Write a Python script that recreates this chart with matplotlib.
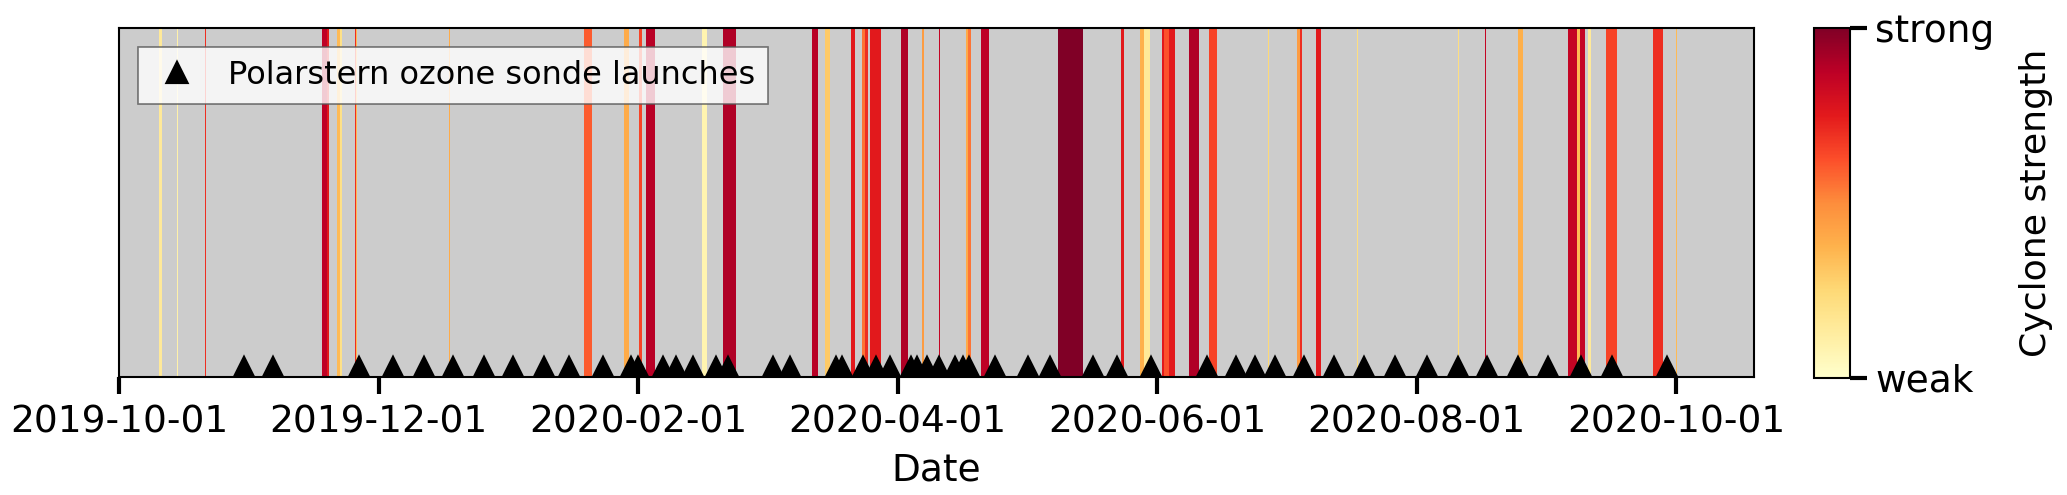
import numpy as np
import matplotlib
matplotlib.use('Agg')
import matplotlib.pyplot as plt
from matplotlib.cm import ScalarMappable
from matplotlib.colors import Normalize

# days since 2019-10-01 (axis is evenly spaced, one tick every 61 days)
tick_days = [0, 61, 122, 183, 244, 305, 366]
tick_labels = ['2019-10-01', '2019-12-01', '2020-02-01', '2020-04-01',
               '2020-06-01', '2020-08-01', '2020-10-01']

# cyclone periods: start day, end day, normalised strength (0 weak .. 1 strong)
band_start = [9.4, 13.7, 20.1, 47.6, 48.8, 51.3, 52.0, 55.5, 55.8, 77.5,
              109.4, 118.8, 122.3, 123.9, 137.0, 142.0, 162.8, 166.0, 172.0, 174.6,
              175.3, 176.5, 183.8, 188.7, 192.7, 199.0, 199.6, 202.6, 220.7, 235.6,
              239.9, 241.0, 245.1, 245.7, 246.9, 251.6, 256.3, 270.0, 276.9, 277.6,
              281.4, 291.0, 314.6, 321.1, 328.9, 340.6, 342.6, 343.3, 345.3, 349.4,
              360.6, 366.0]
band_end = [10.1, 13.9, 20.4, 48.8, 49.4, 52.0, 52.5, 55.8, 56.0, 77.8,
            111.1, 119.8, 123.0, 125.9, 138.1, 145.0, 164.4, 167.1, 173.0, 175.3,
            176.0, 179.1, 185.4, 189.1, 193.0, 199.6, 200.3, 204.4, 226.5, 236.3,
            241.0, 242.4, 245.7, 246.9, 248.3, 253.8, 258.1, 270.3, 277.6, 278.1,
            282.4, 291.3, 314.9, 321.4, 329.9, 342.6, 343.3, 344.5, 345.9, 352.0,
            363.0, 366.3]
band_strength = [0.15, 0.1, 0.7, 0.87, 0.75, 0.35, 0.2, 0.7, 0.35, 0.4,
                 0.6, 0.4, 0.65, 0.88, 0.08, 0.9, 0.88, 0.3, 0.75, 0.55,
                 0.7, 0.75, 0.9, 0.45, 0.85, 0.4, 0.55, 0.87, 1.0, 0.75,
                 0.38, 0.15, 0.75, 0.62, 0.75, 0.9, 0.65, 0.25, 0.45, 0.7,
                 0.75, 0.22, 0.22, 0.85, 0.38, 0.85, 0.35, 0.85, 0.15, 0.65,
                 0.7, 0.35]

# ozone sonde launches (days since 2019-10-01)
launch_days = [29.4, 36.3, 56.4, 64.4, 71.7, 78.6, 85.7, 92.7, 99.8, 105.8,
               113.8, 120.3, 121.9, 127.8, 130.8, 134.8, 140.3, 143.1, 153.6, 157.7,
               168.5, 170.0, 174.8, 177.8, 181.3, 186.2, 187.5, 189.9, 192.8, 196.4,
               198.3, 199.7, 205.8, 213.6, 218.7, 228.9, 234.5, 242.5, 255.7, 262.5,
               266.9, 271.6, 278.6, 285.5, 292.6, 299.9, 307.5, 314.7, 321.5, 328.9,
               335.9, 343.7, 350.8, 363.9]

plt.rcParams['font.family'] = 'DejaVu Sans'
plt.rcParams['font.size'] = 9

cmap = plt.get_cmap('YlOrRd')
norm = Normalize(0, 1)

fig = plt.figure(figsize=(2067 / 300, 495 / 300), dpi=300)
ax = fig.add_axes([0.0576, 0.2384, 0.7910, 0.7050])
ax.set_facecolor('#cccccc')

for s, e, v in zip(band_start, band_end, band_strength):
    ax.axvspan(s, e, color=cmap(norm(v)), lw=0)

ax.plot(launch_days, np.full(len(launch_days), 0.025), '^', color='black',
        markersize=4.5, linestyle='none', label='Polarstern ozone sonde launches')

ax.set_xlim(0, 384.3)
ax.set_ylim(0, 1)
ax.set_yticks([])
ax.set_xticks(tick_days)
ax.set_xticklabels(tick_labels)
ax.tick_params(axis='x', width=1.0, length=4, pad=2.5)
ax.set_xlabel('Date', labelpad=3)
for sp in ax.spines.values():
    sp.set_linewidth(0.5)

leg = ax.legend(loc='upper left', fancybox=False, framealpha=0.8,
                edgecolor='#555555', handlelength=1.6, fontsize=7.7,
                borderaxespad=0.6)
leg.get_frame().set_linewidth(0.4)

cax = fig.add_axes([0.8776, 0.2364, 0.0174, 0.7070])
cb = fig.colorbar(ScalarMappable(norm=norm, cmap=cmap), cax=cax, ticks=[0, 1])
cb.ax.set_yticklabels(['weak', 'strong'])
cb.ax.tick_params(width=1.0, length=4, pad=2)
cb.outline.set_linewidth(0.5)
cb.set_label('Cyclone strength', labelpad=6, fontsize=8.7)

fig.savefig('out.png', dpi=300)
